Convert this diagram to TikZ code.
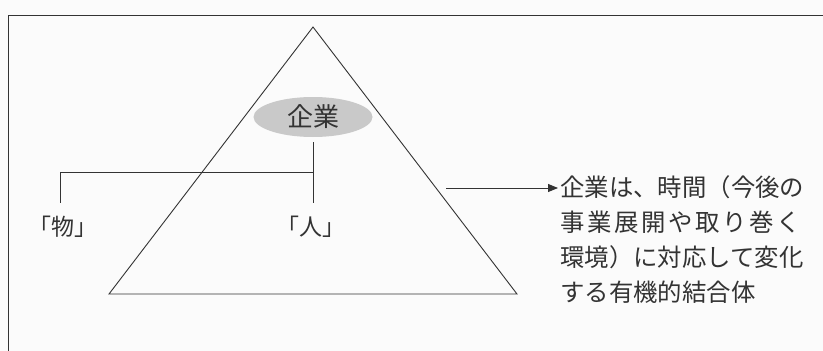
\documentclass[tikz,border=0pt]{standalone}
\usepackage{fontspec}
\newfontfamily\jp{Noto Sans CJK JP}
\newfontfamily\jpp[RawFeature=+palt]{Noto Sans CJK JP}
\usetikzlibrary{arrows.meta,shapes.geometric}
\definecolor{ink}{HTML}{333333}
\definecolor{oval}{HTML}{C9C9C9}
\definecolor{paper}{HTML}{FBFBFB}
\tikzset{
  ln/.style={draw=ink,line width=0.9pt},
  lbl/.style={font=\jpp\fontsize{23}{30}\selectfont,text=ink,inner sep=0pt},
  desctext/.style={font=\jp\fontsize{24.4}{35}\selectfont,text=ink,inner sep=0pt},
}
\begin{document}
\begin{tikzpicture}[x=1pt,y=-1pt]
\fill[paper] (0,0) rectangle (823,351);
\useasboundingbox (0,0) rectangle (823,351);
% frame
\draw[ln] (8,360) -- (8,15) -- (835,15);
% triangle
\coordinate (apex) at (313,27);
\coordinate (bl) at (109,294);
\coordinate (br) at (517,294);
\draw[ln] (apex) -- (bl) -- (br) -- cycle;
% ellipse
\node[ellipse,fill=oval,minimum width=119pt,minimum height=40pt,inner sep=0pt,lbl,font=\jp\fontsize{26}{30}\selectfont] (kigyo) at (313,117) {企業};
% labels
\node[lbl] (mono) at (63,227) {「物」};
\node[lbl] (hito) at (311,227) {「人」};
\coordinate (junc) at (313,172);
\coordinate (hitotop) at (313,203);
\coordinate (monotop) at (60,203);
\draw[ln,shorten <=5pt] (kigyo.south) -- (hitotop);
\draw[ln] (junc) -| (monotop);
% arrow and description
\coordinate (astart) at (446,188);
\node[desctext,anchor=north west,align=left] (desc) at (560,175) {企業は、時間（今後の\\{\addfontfeature{LetterSpace=11}事業展開や取り巻く}\\環境）に対応して変化\\する有機的結合体};
\draw[ln,-{Triangle[length=10pt,width=8pt]}] (astart) -- ([xshift=-2pt]desc.north west |- astart);
\end{tikzpicture}
\end{document}
